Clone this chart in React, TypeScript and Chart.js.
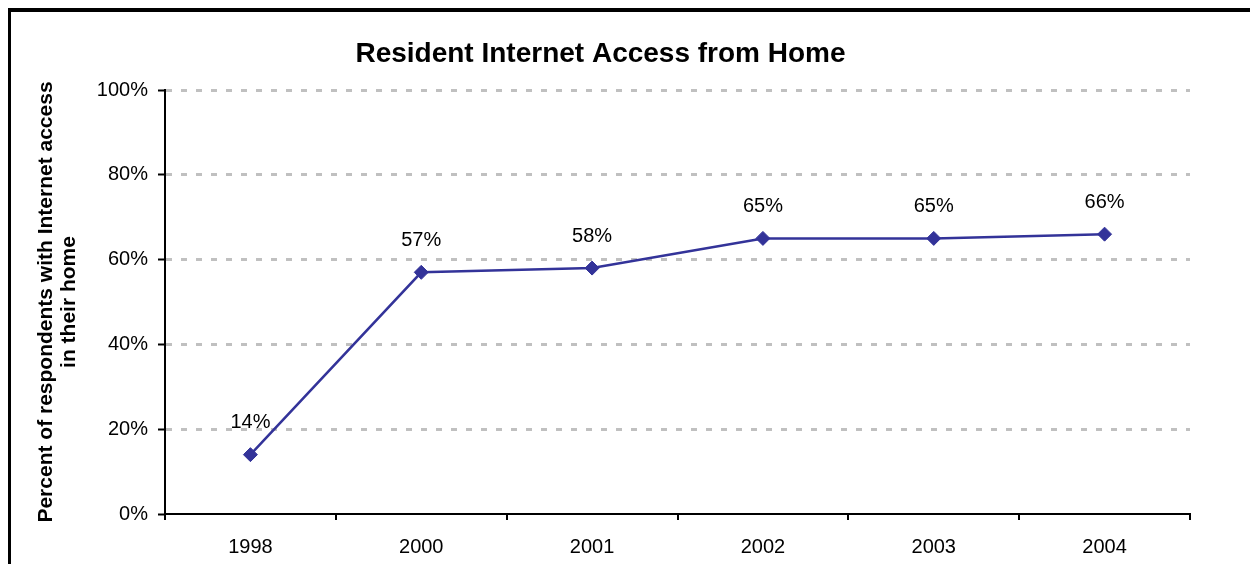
import React, { useEffect, useRef } from "react";
import { Chart, registerables } from "chart.js";

Chart.register(...registerables);

const chartTitle = "Resident Internet Access from Home";
const yAxisTitle = ["Percent of respondents with Internet access", "in their home"];
const categories = ["1998", "2000", "2001", "2002", "2003", "2004"];
const accessPct = [14, 57, 58, 65, 65, 66];
const yMin = 0;
const yMax = 100;
const yStep = 20;

const FONT = "Arial, 'Liberation Sans', sans-serif";

const dataLabelPlugin = {
  id: "dataLabels",
  afterDatasetsDraw(chart: any) {
    const ctx = chart.ctx;
    const meta = chart.getDatasetMeta(0);
    const values = chart.data.datasets[0].data;
    ctx.save();
    ctx.font = `20px ${FONT}`;
    ctx.fillStyle = "#000000";
    ctx.textAlign = "center";
    ctx.textBaseline = "middle";
    meta.data.forEach((pt: any, i: number) => {
      ctx.fillText(values[i] + "%", pt.x, pt.y - 32);
    });
    ctx.restore();
  },
};

export default function App() {
  const canvasRef = useRef<HTMLCanvasElement | null>(null);

  useEffect(() => {
    if (!canvasRef.current) return;
    const chart = new Chart(canvasRef.current, {
      type: "line",
      data: {
        labels: categories,
        datasets: [
          {
            data: accessPct,
            borderColor: "#333399",
            backgroundColor: "#333399",
            borderWidth: 2.5,
            pointStyle: "rectRot",
            pointRadius: 7,
            pointBorderWidth: 1,
            pointBackgroundColor: "#333399",
            pointBorderColor: "#333399",
            tension: 0,
            fill: false,
          },
        ],
      },
      options: {
        animation: false,
        responsive: false,
        devicePixelRatio: 1,
        layout: { autoPadding: false, padding: { left: 0, right: 1, top: 0, bottom: 0 } },
        plugins: {
          legend: { display: false },
          tooltip: { enabled: false },
          title: {
            display: true,
            text: chartTitle,
            color: "#000000",
            font: { family: FONT, size: 28, weight: "bold", lineHeight: 1.2 },
            padding: { top: 25.2, bottom: 19.2 },
          },
        },
        scales: {
          x: {
            offset: true,
            grid: {
              offset: true,
              drawOnChartArea: false,
              drawTicks: true,
              tickLength: 6,
              tickColor: "#000000",
              tickWidth: 2,
              color: "#000000",
              lineWidth: 2,
            },
            border: { display: true, color: "#000000", width: 2 },
            ticks: {
              color: "#000000",
              font: { family: FONT, size: 20 },
              padding: 15,
              maxRotation: 0,
            },
            afterFit(scale: any) {
              scale.height = 50;
            },
          },
          y: {
            min: yMin,
            max: yMax,
            grid: {
              color: (c: any) => (c.tick && c.tick.value === 0 ? "rgba(0,0,0,0)" : "#c0c0c0"),
              lineWidth: 3,
              tickColor: "#000000",
              tickWidth: 2,
              tickLength: 7,
              tickBorderDash: [],
            },
            border: { display: true, color: "#000000", width: 2, dash: [6, 9] },
            ticks: {
              stepSize: yStep,
              color: "#000000",
              font: { family: FONT, size: 20 },
              padding: 10,
              callback: (v: any) => v + "%",
            },
            title: {
              display: true,
              text: yAxisTitle,
              color: "#000000",
              font: { family: FONT, size: 21, weight: "bold", lineHeight: 23 / 21 },
              padding: { top: 23.5, bottom: 10 },
            },
            afterFit(scale: any) {
              scale.width = 154;
            },
          },
        },
      },
      plugins: [dataLabelPlugin],
    });
    return () => chart.destroy();
  }, []);

  return (
    <div
      style={{
        borderLeft: "3px solid #000",
        borderTop: "4px solid #000",
        height: 552,
        overflow: "hidden",
      }}
    >
      <canvas ref={canvasRef} width={1180} height={552} style={{ display: "block" }} />
    </div>
  );
}
